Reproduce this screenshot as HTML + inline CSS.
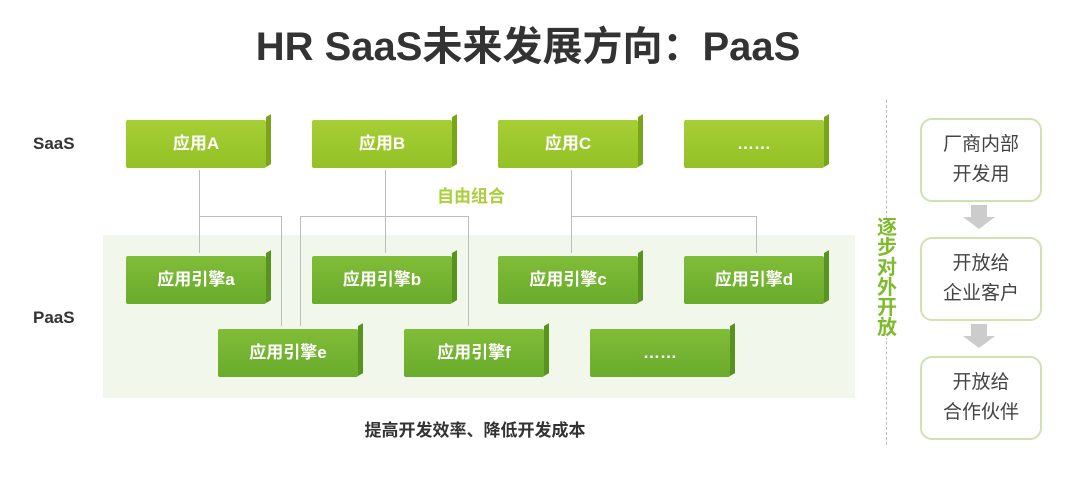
<!DOCTYPE html>
<html><head><meta charset="utf-8"><style>
body{margin:0;width:1076px;height:477px;background:#fff;position:relative;overflow:hidden;font-family:"Liberation Sans","Noto Sans CJK SC",sans-serif}
.a{position:absolute}
.t{left:0;width:1056px;top:14px;text-align:center;font-size:40px;font-weight:bold;color:#333}
.box{position:absolute;width:140px;height:48px;color:#fff;font-weight:bold;font-size:17px;text-align:center;line-height:48px;border-radius:2px}
.box:after{content:"";position:absolute;right:-5px;top:-3px;width:5px;height:50px;background:#5e9a1c;transform:skewY(-30deg);transform-origin:left top}
.s{background:linear-gradient(#a6cf35,#93c126)}
.s:after{background:#7aa51a}
.e{background:linear-gradient(#80bd38,#6aab2c)}
.e:after{background:#58921f}
.ln{position:absolute;background:#bdbdbd}
.rb{position:absolute;left:920px;width:118px;height:80px;border:2px solid #cfe2b0;border-radius:12px;text-align:center;font-size:19px;color:#444;line-height:30px;display:flex;align-items:center;justify-content:center}
.ar{position:absolute;left:971px;width:16px;height:12px;background:#ccc}
.ar:after{content:"";position:absolute;left:-8px;top:12px;border-left:16px solid transparent;border-right:16px solid transparent;border-top:12px solid #ccc}
</style></head><body>
<div class="a t">HR SaaS未来发展方向：PaaS</div>
<div class="a" style="left:103px;top:235px;width:752px;height:163px;background:#f2f7ec"></div>
<div class="a" style="left:33px;top:134px;font-size:17px;font-weight:bold;color:#333">SaaS</div>
<div class="a" style="left:33px;top:308px;font-size:17px;font-weight:bold;color:#333">PaaS</div>
<div class="ln" style="left:199px;top:170px;width:1px;height:83px"></div>
<div class="ln" style="left:199px;top:216px;width:82px;height:1px"></div>
<div class="ln" style="left:281px;top:216px;width:1px;height:110px"></div>
<div class="ln" style="left:385px;top:170px;width:1px;height:83px"></div>
<div class="ln" style="left:300px;top:216px;width:168px;height:1px"></div>
<div class="ln" style="left:300px;top:216px;width:1px;height:110px"></div>
<div class="ln" style="left:468px;top:216px;width:1px;height:110px"></div>
<div class="ln" style="left:571px;top:170px;width:1px;height:83px"></div>
<div class="ln" style="left:571px;top:216px;width:186px;height:1px"></div>
<div class="ln" style="left:756px;top:216px;width:1px;height:37px"></div>
<div class="box s" style="left:126px;top:120px">应用A</div>
<div class="box s" style="left:312px;top:120px">应用B</div>
<div class="box s" style="left:498px;top:120px">应用C</div>
<div class="box s" style="left:684px;top:120px">……</div>
<div class="a" style="left:437px;top:182px;font-size:17px;font-weight:bold;color:#a9cf3a">自由组合</div>
<div class="box e" style="left:126px;top:256px">应用引擎a</div>
<div class="box e" style="left:312px;top:256px">应用引擎b</div>
<div class="box e" style="left:498px;top:256px">应用引擎c</div>
<div class="box e" style="left:684px;top:256px">应用引擎d</div>
<div class="box e" style="left:218px;top:329px">应用引擎e</div>
<div class="box e" style="left:404px;top:329px">应用引擎f</div>
<div class="box e" style="left:590px;top:329px">……</div>
<div class="a" style="left:0;width:950px;top:416px;text-align:center;font-size:17px;font-weight:bold;color:#333">提高开发效率、降低开发成本</div>
<div class="a" style="left:886px;top:100px;height:345px;border-left:1px dashed #bbb"></div>
<div class="a" style="left:876px;top:218px;width:22px;background:#fff;font-size:20px;font-weight:bold;color:#7dbb2c;line-height:20px;text-align:center">逐步对外开放</div>
<div class="rb" style="top:118px">厂商内部<br>开发用</div>
<div class="ar" style="top:205px"></div>
<div class="rb" style="top:237px">开放给<br>企业客户</div>
<div class="ar" style="top:324px"></div>
<div class="rb" style="top:356px">开放给<br>合作伙伴</div>
</body></html>
